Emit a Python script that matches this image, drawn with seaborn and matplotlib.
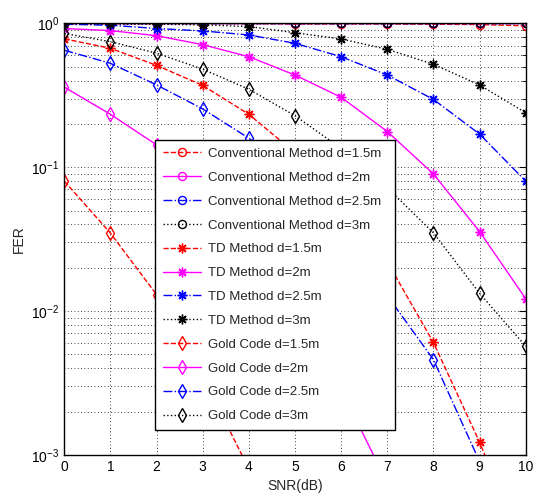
import matplotlib
matplotlib.use("Agg")
import matplotlib.pyplot as plt
import numpy as np
import seaborn as sns

snr = [0, 1, 2, 3, 4, 5, 6, 7, 8, 9, 10]

# FER values (log10 estimates turned into values)
conv_15 = [0.995, 0.995, 0.995, 0.995, 0.995, 0.99, 0.99, 0.99, 0.985, 0.98, 0.96]
conv_2 = [0.999, 0.999, 0.999, 0.999, 0.999, 0.999, 0.999, 0.999, 0.999, 0.999, 0.999]
conv_25 = [0.999, 0.999, 0.999, 0.999, 0.999, 0.999, 0.999, 0.999, 0.999, 0.999, 0.999]
conv_3 = [0.999, 0.999, 0.999, 0.999, 0.999, 0.999, 0.999, 0.999, 0.999, 0.999, 0.999]

td_15 = [0.78, 0.67, 0.51, 0.37, 0.233, 0.126, 0.056, 0.022, 0.00605, 0.00123, 0.0002]
td_2 = [0.92, 0.89, 0.82, 0.71, 0.586, 0.437, 0.306, 0.177, 0.0898, 0.0357, 0.0122]
td_25 = [0.985, 0.97, 0.92, 0.885, 0.83, 0.726, 0.586, 0.437, 0.296, 0.170, 0.080]
td_3 = [0.995, 0.99, 0.985, 0.975, 0.95, 0.86, 0.778, 0.66, 0.519, 0.373, 0.239]

gold_15 = [0.080, 0.0348, 0.013, 0.0035, 0.0008, 0.0001, 0.00002, 0.000003, 0.0000004, 0.00000005, 0.000000005]
gold_2 = [0.36, 0.233, 0.143, 0.068, 0.0272, 0.0094, 0.00285, 0.00064, 0.0001, 0.00001, 0.000001]
gold_25 = [0.65, 0.527, 0.373, 0.254, 0.159, 0.085, 0.038, 0.0128, 0.0046, 0.0009, 0.0001]
gold_3 = [0.85, 0.745, 0.62, 0.48, 0.348, 0.228, 0.135, 0.072, 0.035, 0.0133, 0.0057]

asterisk = (8, 2, 0)
series = [
    ("Conventional Method d=1.5m", conv_15, "#ff0000", "--", "o"),
    ("Conventional Method d=2m", conv_2, "#ff00ff", "-", "o"),
    ("Conventional Method d=2.5m", conv_25, "#0000ff", "-.", "o"),
    ("Conventional Method d=3m", conv_3, "#000000", ":", "o"),
    ("TD Method d=1.5m", td_15, "#ff0000", "--", asterisk),
    ("TD Method d=2m", td_2, "#ff00ff", "-", asterisk),
    ("TD Method d=2.5m", td_25, "#0000ff", "-.", asterisk),
    ("TD Method d=3m", td_3, "#000000", ":", asterisk),
    ("Gold Code d=1.5m", gold_15, "#ff0000", "--", "d"),
    ("Gold Code d=2m", gold_2, "#ff00ff", "-", "d"),
    ("Gold Code d=2.5m", gold_25, "#0000ff", "-.", "d"),
    ("Gold Code d=3m", gold_3, "#000000", ":", "d"),
]
msize = {"o": 5.8, "d": 7.0}

sns.set_style("white")
plt.rcParams['font.family'] = ['Liberation Sans', 'DejaVu Sans']

fig = plt.figure(figsize=(5.41, 4.99), dpi=100)
ax = fig.add_axes([0.1189, 0.0882, 0.8528, 0.8651])

for label, vals, color, ls, mk in series:
    sns.lineplot(x=snr, y=vals, ax=ax, color=color, linestyle=ls, marker=mk,
                 markersize=msize.get(mk, 7.0) if isinstance(mk, str) else 7.0,
                 markerfacecolor="none", markeredgecolor=color, markeredgewidth=1.0,
                 linewidth=1.0, label=label, sort=False, estimator=None)

ax.set_yscale("log")
ax.set_xlim(0, 10)
ax.set_ylim(1e-3, 1)
ax.set_xticks(snr)
ax.set_xlabel("SNR(dB)", fontsize=10)
ax.set_ylabel("FER", fontsize=10)

ax.grid(True, which="major", axis="both", color="k", linestyle=(0, (1, 3)), linewidth=0.6)
ax.grid(True, which="minor", axis="y", color="k", linestyle=(0, (1, 3)), linewidth=0.6)
ax.tick_params(which="both", direction="in", top=True, right=True, labelsize=10, colors="k")
ax.tick_params(which="major", length=5)
ax.tick_params(which="minor", length=3)
for s in ax.spines.values():
    s.set_color("k")
    s.set_linewidth(1.0)

leg = ax.legend(loc="lower left", bbox_to_anchor=(0.197, 0.058, 0.52, 0.672), mode="expand",
                fontsize=9.5, handlelength=2.9, handletextpad=0.55, labelspacing=0.88,
                borderpad=0.58, borderaxespad=0, fancybox=False, framealpha=1, edgecolor="k")
leg.get_frame().set_linewidth(1.0)

fig.savefig("out.png", dpi=100)
